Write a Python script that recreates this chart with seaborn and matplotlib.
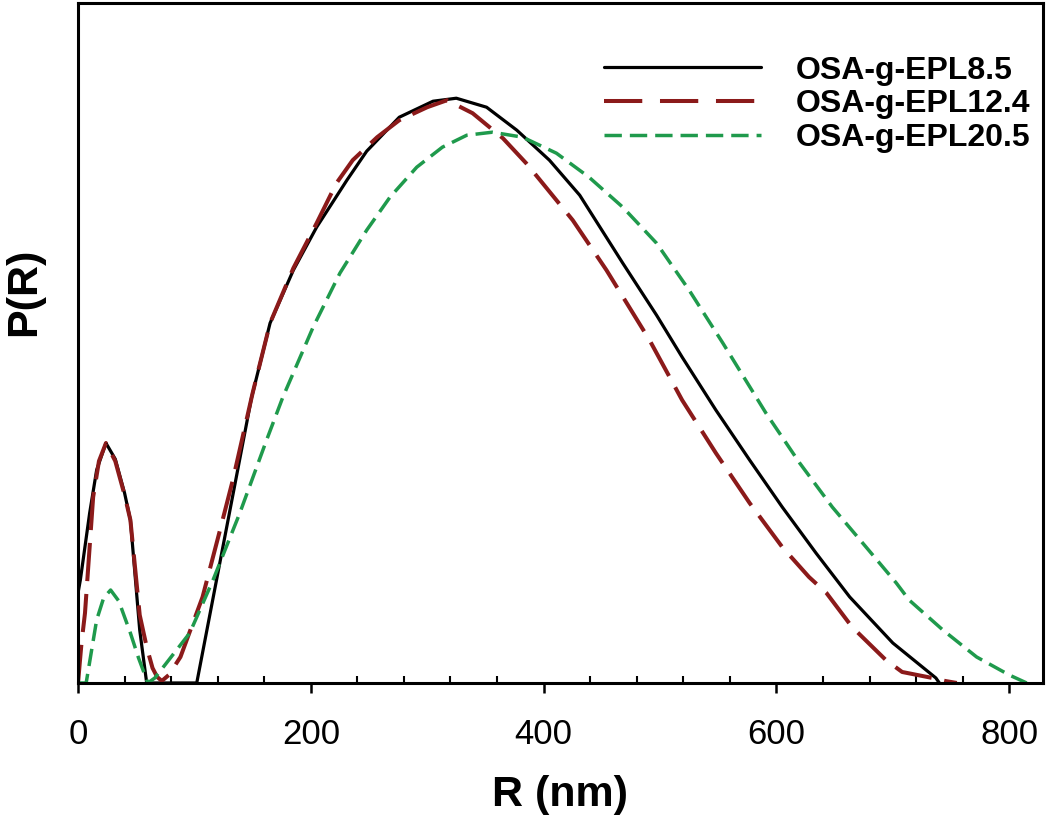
import numpy as np
import pandas as pd
import matplotlib
matplotlib.use("Agg")
import matplotlib.pyplot as plt
import seaborn as sns
from matplotlib.ticker import MultipleLocator

# values (R in nm, P(R) in arbitrary units)
black_r = [0, 2, 10, 16, 24, 32, 40, 45, 53, 59, 80, 102, 119, 136, 149, 165,
           185, 205, 231, 248, 276, 305, 325, 351, 377, 405, 431, 468, 497, 519,
           548, 577, 605, 634, 663, 700, 737, 740]
black_p = [90, 103, 170, 213, 240, 224, 190, 163, 53, 0, 0, 0, 103, 206, 285, 360,
           413, 456, 503, 532, 566, 582, 585, 576, 553, 523, 488, 420, 368, 326,
           273, 223, 176, 130, 86, 40, 5, 0]

red_r = [0, 3, 6, 13, 18, 24, 32, 40, 45, 53, 59, 64, 68, 72, 78, 88, 107, 122,
         133, 150, 165, 185, 205, 222, 236, 257, 276, 300, 317, 339, 365, 385,
         397, 425, 454, 482, 491, 519, 548, 577, 605, 628, 643, 665, 694, 708,
         734, 745, 755]
red_p = [0, 40, 70, 186, 222, 240, 222, 188, 163, 68, 36, 15, 6, 2, 8, 26, 86, 153,
         203, 290, 360, 415, 460, 500, 523, 546, 563, 576, 583, 570, 545, 520,
         503, 463, 413, 360, 343, 283, 230, 180, 136, 106, 90, 56, 23, 11,
         5, 2, 0]

green_r = [0, 7, 16, 22, 28, 35, 45, 52, 60, 66, 76, 96, 116, 139, 162, 176, 202,
           225, 248, 268, 291, 313, 334, 356, 382, 411, 439, 468, 497, 525, 554,
           591, 620, 648, 677, 703, 714, 743, 772, 800, 815]
green_p = [0, 0, 63, 85, 93, 82, 50, 25, 0, 5, 20, 50, 103, 170, 243, 286, 356,
           410, 453, 486, 516, 536, 548, 551, 546, 530, 506, 476, 440, 393, 340,
           270, 220, 176, 136, 100, 83, 53, 26, 8, 0]

labels = ["OSA-g-EPL8.5", "OSA-g-EPL12.4", "OSA-g-EPL20.5"]
x_ticks = [0, 200, 400, 600, 800]

sns.set_theme(style="white")
plt.rcParams['font.family'] = ['Liberation Sans', 'DejaVu Sans']
plt.rcParams['text.color'] = 'black'
plt.rcParams['axes.labelcolor'] = 'black'
plt.rcParams['xtick.color'] = 'black'

fig = plt.figure(figsize=(10.5, 8.15), dpi=100)
ax = fig.add_axes([0.0743, 0.162, 0.919, 0.834])

sns.lineplot(x=black_r, y=black_p, ax=ax, color='black', linewidth=2.3,
             label=labels[0], sort=False)
sns.lineplot(x=red_r, y=red_p, ax=ax, color='#8b1a1a', linewidth=2.9,
             label=labels[1], sort=False)
ax.lines[-1].set_dashes([9.5, 3.2])
sns.lineplot(x=green_r, y=green_p, ax=ax, color='#1f9a4c', linewidth=2.5,
             label=labels[2], sort=False)
ax.lines[-1].set_dashes([5, 2.3])

ax.set_xlim(0, 829)
ax.set_ylim(0, 680)
ax.set_xticks(x_ticks)
ax.xaxis.set_minor_locator(MultipleLocator(40))
ax.set_yticks([])

ax.tick_params(axis='x', which='major', direction='out', length=7, width=1.8,
               labelsize=25, pad=18, colors='black', bottom=True)
ax.tick_params(axis='x', which='minor', direction='in', length=5, width=1.5,
               color='black', bottom=True)

for side in ['left', 'right', 'top', 'bottom']:
    ax.spines[side].set_linewidth(2.2)
    ax.spines[side].set_color('black')

ax.set_xlabel('R (nm)', fontsize=31, fontweight='bold')
ax.xaxis.set_label_coords(0.4995, -0.135)
ax.set_ylabel('P(R)', fontsize=31, fontweight='bold')
ax.yaxis.set_label_coords(-0.035, 0.575)

leg = ax.legend(loc='upper right', bbox_to_anchor=(0.987, 0.923), frameon=False,
                prop={'weight': 'bold', 'size': 23}, handlelength=4.9,
                handletextpad=1.1, labelspacing=0.12, borderpad=0,
                borderaxespad=0)
# three whole dashes in the red legend sample, as in the original
leg.get_lines()[1].set_dashes([9.5, 4.4])

fig.savefig('out.png', dpi=100, facecolor='white')
